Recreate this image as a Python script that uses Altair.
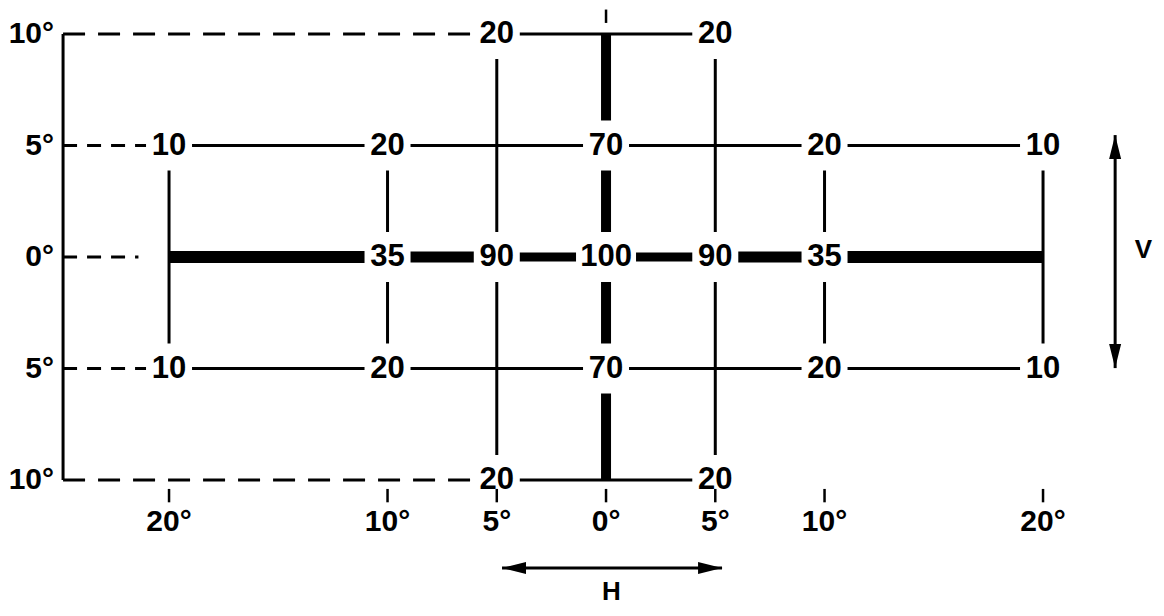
import altair as alt
import pandas as pd

# ---- data ----------------------------------------------------------------
# relative intensity values at (H, V) grid points, degrees
row_v = [10, 10, 5, 5, 5, 5, 5, 0, 0, 0, 0, 0, -5, -5, -5, -5, -5, -10, -10]
col_h = [-5, 5, -20, -10, 0, 10, 20, -10, -5, 0, 5, 10, -20, -10, 0, 10, 20, -5, 5]
values = [20, 20, 10, 20, 70, 20, 10, 35, 90, 100, 90, 35, 10, 20, 70, 20, 10, 20, 20]

# horizontal grid segments: (V, H from, H to)
hseg_v = [10, 5, 0, 0, 0, 0, 0, -5, -10]
hseg_h1 = [-5, -20, -20, -10, -5, 5, 10, -20, -5]
hseg_h2 = [5, 20, -10, -5, 5, 10, 20, 20, 5]

# vertical grid segments: (H, V from, V to)
vseg_h = [-20, -10, -5, 0, 5, 10, 20]
vseg_v1 = [5, 5, 10, 10, 10, 5, 5]
vseg_v2 = [-5, -5, -10, -10, -10, -5, -5]

# dashed leader lines from the left frame: (V, H end)
dash_v = [10, 5, 0, -5, -10]
dash_h_end = [-5, -20, -21.4, -20, -5]

x_ticks = [-20, -10, -5, 0, 5, 10, 20]
x_tick_labels = ["20°", "10°", "5°", "0°", "5°", "10°", "20°"]
y_ticks = [10, 5, 0, -5, -10]
y_tick_labels = ["10°", "5°", "0°", "5°", "10°"]

FRAME_H = -24.85

# ---- scales ----------------------------------------------------------------
XS = alt.Scale(domain=[-27.37, 25.17], nice=False, zero=False)
YS = alt.Scale(domain=[-15.74, 11.17], nice=False, zero=False)
FONT = "Liberation Sans"


def X(f):
    return alt.X(f, scale=XS, axis=None)


def Y(f):
    return alt.Y(f, scale=YS, axis=None)


def width_h(v, h1, h2):
    if v != 0:
        return 3
    m = abs((h1 + h2) / 2)
    return 12 if m > 10 else (11 if m > 5 else 9)


rows = []
for v, a, b in zip(hseg_v, hseg_h1, hseg_h2):
    rows.append(dict(h1=a, h2=b, v1=v, v2=v, w=width_h(v, a, b)))
for h, a, b in zip(vseg_h, vseg_v1, vseg_v2):
    rows.append(dict(h1=h, h2=h, v1=a, v2=b, w=10 if h == 0 else 3))
rows.append(dict(h1=FRAME_H, h2=FRAME_H, v1=10, v2=-10, w=3))
seg_df = pd.DataFrame(rows)

dash_df = pd.DataFrame(dict(v=dash_v, h1=[FRAME_H] * 5, h2=dash_h_end))
dash_df["long"] = dash_df["v"].abs() == 10

lab_df = pd.DataFrame(dict(h=col_h, v=row_v, val=values))
lab_df["txt"] = lab_df["val"].astype(str)
lab_df["wide"] = lab_df["val"] >= 100

seg = alt.Chart(seg_df).mark_rule(color="black", strokeCap="butt").encode(
    x=X("h1:Q"), x2="h2:Q", y=Y("v1:Q"), y2="v2:Q",
    strokeWidth=alt.StrokeWidth("w:Q", scale=None),
)

dash_long = alt.Chart(dash_df).transform_filter("datum.long").mark_rule(
    color="black", strokeWidth=3, strokeDash=[22, 13]
).encode(x=X("h1:Q"), x2="h2:Q", y=Y("v:Q"))

dash_short = alt.Chart(dash_df).transform_filter("!datum.long").mark_rule(
    color="black", strokeWidth=3, strokeDash=[14, 10]
).encode(x=X("h1:Q"), x2="h2:Q", y=Y("v:Q"))

mask2 = alt.Chart(lab_df).transform_filter("!datum.wide").mark_point(
    shape="M-0.92,-1L0.92,-1L0.92,1L-0.92,1Z", filled=True, fill="white",
    strokeWidth=0, opacity=1, size=2500,
).encode(x=X("h:Q"), y=Y("v:Q"))

mask3 = alt.Chart(lab_df).transform_filter("datum.wide").mark_point(
    shape="M-1.2,-1L1.2,-1L1.2,1L-1.2,1Z", filled=True, fill="white",
    strokeWidth=0, opacity=1, size=2500,
).encode(x=X("h:Q"), y=Y("v:Q"))

labels = alt.Chart(lab_df).mark_text(
    font=FONT, fontSize=31, fontWeight="bold", color="black",
    align="center", baseline="middle"
).encode(x=X("h:Q"), y=Y("v:Q"), text="txt:N")

# ticks
tick_df = pd.DataFrame(dict(h=x_ticks, lab=x_tick_labels))
ticks = alt.Chart(tick_df).mark_rule(color="black", strokeWidth=2.5).encode(
    x=X("h:Q"), y=alt.Y("a:Q", scale=YS, axis=None), y2="b:Q"
).transform_calculate(a="-10.4", b="-11.0")
top_tick = alt.Chart(pd.DataFrame(dict(h=[0]))).mark_rule(
    color="black", strokeWidth=2.5
).encode(x=X("h:Q"), y=alt.Y("a:Q", scale=YS, axis=None), y2="b:Q").transform_calculate(
    a="11.1", b="10.5"
)
xlab = alt.Chart(tick_df).mark_text(
    font=FONT, fontSize=30, fontWeight="bold", color="black",
    align="center", baseline="middle"
).encode(x=X("h:Q"), y=alt.Y("yy:Q", scale=YS, axis=None), text="lab:N").transform_calculate(
    yy="-11.9"
)

ylab_df = pd.DataFrame(dict(v=y_ticks, lab=y_tick_labels, h=[FRAME_H] * 5))
ylab = alt.Chart(ylab_df).mark_text(
    font=FONT, fontSize=30, fontWeight="bold", color="black",
    align="right", baseline="middle", dx=-9
).encode(x=X("h:Q"), y=Y("v:Q"), text="lab:N")

# arrows H and V
harrow_df = pd.DataFrame(dict(h1=[-4.76], h2=[5.31], v=[-13.95]))
harrow = alt.Chart(harrow_df).mark_rule(color="black", strokeWidth=3).encode(
    x=X("h1:Q"), x2="h2:Q", y=Y("v:Q")
)
hl = alt.Chart(harrow_df).mark_point(
    shape="M0,0L1,-0.25L1,0.25Z", filled=True, color="black", opacity=1,
    strokeWidth=0, size=2304,
).encode(x=X("h1:Q"), y=Y("v:Q"))
hr = alt.Chart(harrow_df).mark_point(
    shape="M0,0L-1,-0.25L-1,0.25Z", filled=True, color="black", opacity=1,
    strokeWidth=0, size=2304,
).encode(x=X("h2:Q"), y=Y("v:Q"))

varrow_df = pd.DataFrame(dict(h=[23.3], v1=[5.47], v2=[-4.98]))
varrow = alt.Chart(varrow_df).mark_rule(color="black", strokeWidth=3).encode(
    x=X("h:Q"), y=Y("v1:Q"), y2="v2:Q"
)
vu = alt.Chart(varrow_df).mark_point(
    shape="M0,0L-0.25,1L0.25,1Z", filled=True, color="black", opacity=1,
    strokeWidth=0, size=2304,
).encode(x=X("h:Q"), y=Y("v1:Q"))
vd = alt.Chart(varrow_df).mark_point(
    shape="M0,0L-0.25,-1L0.25,-1Z", filled=True, color="black", opacity=1,
    strokeWidth=0, size=2304,
).encode(x=X("h:Q"), y=Y("v2:Q"))

name_df = pd.DataFrame(dict(h=[0.25, 24.6], v=[-15.0, 0.3], t=["H", "V"]))
names = alt.Chart(name_df).mark_text(
    font=FONT, fontSize=26, fontWeight="bold", color="black",
    align="center", baseline="middle"
).encode(x=X("h:Q"), y=Y("v:Q"), text="t:N")

chart = alt.layer(
    dash_long, dash_short, seg, mask2, mask3, labels, ticks, top_tick, xlab, ylab,
    harrow, hl, hr, varrow, vu, vd, names,
).properties(
    width=1148, height=600, autosize=alt.AutoSizeParams(type="none"), padding=0,
    background="white",
).configure_view(stroke=None)

chart.save("out.html", embed_options={"renderer": "svg", "actions": False})
